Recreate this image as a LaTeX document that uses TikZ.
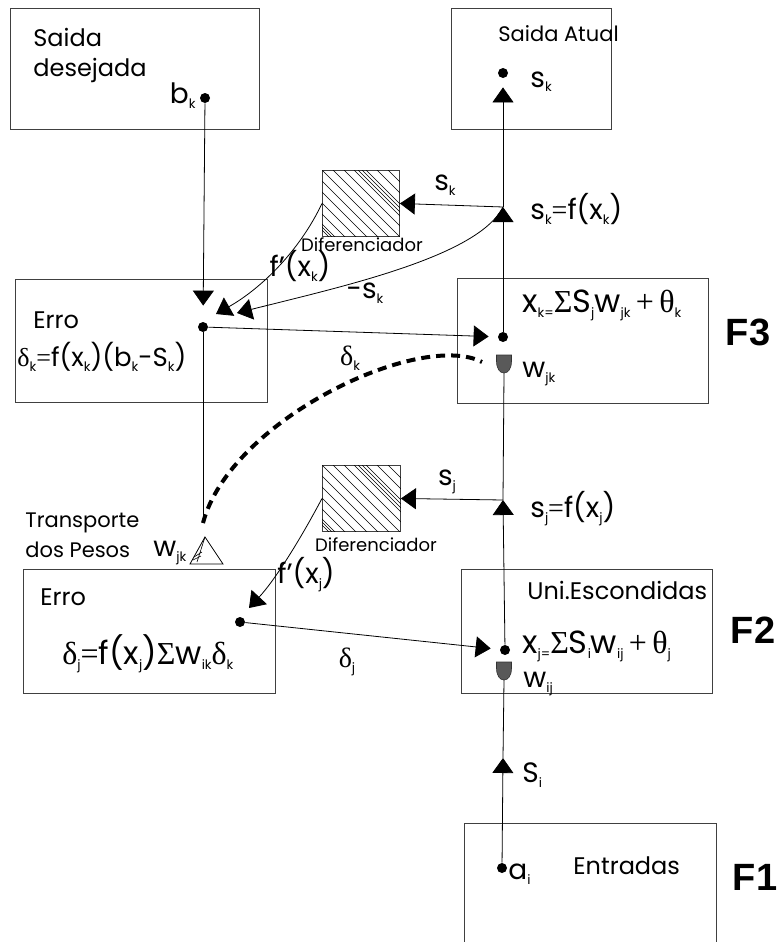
\documentclass[tikz,border=0pt]{standalone}
\usepackage{fontspec}
\setmainfont{Poppins}
\newfontfamily\grk{Liberation Serif}
\newfontfamily\boldsans{Liberation Sans}
\usetikzlibrary{arrows.meta,calc}

\newcommand\sub[1]{\raisebox{-5pt}{\fontsize{13}{13}\selectfont #1}}
\newcommand\gr[1]{{\grk #1}}
\newcommand\lin{{\char"0027}}

\tikzset{
  box/.style={draw=black!75,line width=0.9pt,inner sep=0pt,anchor=north west},
  dot/.style={circle,fill,inner sep=0pt,minimum size=10pt},
  tip/.style={-{Triangle[length=15pt,width=21pt]}},
  lbl/.style={inner sep=0pt,font=\fontsize{24}{28}\selectfont},
  eq/.style={inner sep=0pt,font=\fontsize{28}{32}\selectfont},
  bigeq/.style={inner sep=0pt,font=\fontsize{32}{36}\selectfont},
  small/.style={inner sep=0pt,font=\fontsize{18}{20}\selectfont},
  layer/.style={font=\boldsans\bfseries\fontsize{38}{40}\selectfont},
  transp/.style={line width=4pt,dash pattern=on 9pt off 6pt},
  shield/.pic={\filldraw[fill=black!65,draw=black!80,line width=0.6pt]
    (-7.5,0) -- (7.5,0) -- (7.5,6) .. controls (7.5,14) and (4,18) .. (0,18)
    .. controls (-4,18) and (-7.5,14) .. (-7.5,6) -- cycle;
    \coordinate (-bot) at (0,18);}
}

\begin{document}
\begin{tikzpicture}[x=1pt,y=-1pt,line width=0.8pt]
\useasboundingbox (0,0) rectangle (780,942);

\node[box,minimum width=249pt,minimum height=121pt] (desej) at (10,8) {};
\node[box,minimum width=160pt,minimum height=121pt] (atual) at (451,8) {};
\node[box,minimum width=252pt,minimum height=123pt] (errok) at (15,279) {};
\node[box,minimum width=251pt,minimum height=125pt] (camk) at (457,278) {};
\node[box,minimum width=252pt,minimum height=124pt] (erroj) at (23,569) {};
\node[box,minimum width=251pt,minimum height=124pt] (camj) at (461,569) {};
\draw[draw=black!75,line width=0.9pt] (464,950) -- (464,823) -- (716,823) -- (716,950);
\node[box,minimum width=77pt,minimum height=66pt] (dif1) at (322,170) {};
\node[box,minimum width=78pt,minimum height=66pt] (dif2) at (322,465) {};

\foreach \d in {dif1,dif2}{
  \begin{scope}
    \clip (\d.south west) rectangle (\d.north east);
    \foreach \o in {-60,-57,-54,-44,-33,-22,-11,0,11,22,32,36,40,44,55,66}
      \draw[line width=0.6pt] ($(\d.north west)+(\o,0)$) -- +(90,90);
  \end{scope}}

\node[lbl,anchor=base west] (t1) at (33,47) {Saida};
\node[lbl,anchor=base west] (t2) at (33,77) {desejada};
\node[eq,anchor=base east] (bklab) at (196,103) {b\sub{k}};
\node[dot] (bk) at (205,98) {};

\node[lbl,anchor=base west,font=\fontsize{21}{25}\selectfont] (t3) at (498,42) {Saida Atual};
\node[dot] (sout) at (503,73) {};
\node[eq,anchor=base west] (sklab) at (530,87) {s\sub{k}};

\node[small] (d1lab) at (362,245) {Diferenciador};
\node[small] (d2lab) at (376,545) {Diferenciador};

\node[eq] (skarr) at (445,185) {s\sub{k}};
\node[eq,anchor=base west] (skf) at (530,219) {s\sub{k}\gr{=}f(x\sub{k})};
\node[eq] (fk) at (300,266) {f\lin(x\sub{k})};
\node[eq] (msk) at (365,293) {-s\sub{k}};

\node[lbl,anchor=base west] (t4) at (33,328) {Erro};
\node[eq,anchor=base west,font=\fontsize{26}{30}\selectfont] (ekf) at (17,366) {\gr{δ}\sub{k}\gr{=}f(x\sub{k})(b\sub{k}-S\sub{k})};
\node[dot] (dk) at (203,327) {};
\node[eq] (dklab) at (350,358) {\gr{δ}\sub{k}};
\node[bigeq,anchor=base west] (xkf) at (522,312) {x\sub{k=}\gr{Σ}S\sub{j}w\sub{jk}\,\gr{+}\,\gr{θ}\sub{k}};
\node[eq,anchor=base west] (wjklab) at (522,377) {w\sub{jk}};
\node[layer] (f3) at (748,332) {F3};

\node[lbl,anchor=base west,font=\fontsize{21}{25}\selectfont] (t5) at (25,527) {Transporte};
\node[lbl,anchor=base west,font=\fontsize{21}{25}\selectfont] (t6) at (25,557) {dos Pesos};
\node[eq,anchor=base west] (wtr) at (153,556) {w\sub{jk}};

\node[eq] (sjarr) at (447,482) {s\sub{j}};
\node[eq,anchor=base west] (sjf) at (530,517) {s\sub{j}\gr{=}f(x\sub{j})};
\node[eq] (fj) at (306,575) {f\lin(x\sub{j})};

\node[lbl,anchor=base west] (t7) at (40,605) {Erro};
\node[bigeq,anchor=base west] (ejf) at (62,664) {\gr{δ}\sub{j}\gr{=}f(x\sub{j})\gr{Σ}w\sub{ik}\gr{δ}\sub{k}};
\node[dot] (dj) at (240,622) {};
\node[eq] (djlab) at (347,662) {\gr{δ}\sub{j}};
\node[lbl,anchor=base west] (t8) at (527,599) {Uni.Escondidas};
\node[bigeq,anchor=base west] (xjf) at (522,653) {x\sub{j=}\gr{Σ}S\sub{i}w\sub{ij}\,\gr{+}\,\gr{θ}\sub{j}};
\node[eq,anchor=base west] (wijlab) at (523,687) {w\sub{ij}};
\node[layer] (f2) at (753,630) {F2};

\node[eq,anchor=base west] (silab) at (522,782) {S\sub{i}};
\node[dot] (ai) at (502,868) {};
\node[eq,anchor=base west] (ailab) at (508,879) {a\sub{i}};
\node[lbl,anchor=base west] (t9) at (573,874) {Entradas};
\node[layer] (f1) at (755,877) {F1};

\coordinate (si) at (503,758);
\pic (wij) at (504,662) {shield};
\node[dot] (xj) at (505,650) {};
\coordinate (sj) at (503,500);
\pic (wjk) at (504,355) {shield};
\node[dot] (xk) at (503,337) {};
\coordinate (sk) at (503,207);
\coordinate (fkend) at (216,314);
\coordinate (mkend) at (237,313);
\coordinate (fjend) at (249,608);
\coordinate (ttop) at (203,523);
\coordinate (dend) at (482,362);
\coordinate (tw) at (205,537);

\draw[tip] (ai) -- (si);
\draw (si) -- (wij-bot);
\draw[tip] (xj) -- (sj);
\draw (sj) -- (wjk-bot);
\draw[tip] (xk) -- (sk);
\draw[tip,shorten >=9pt] (sk) -- (sout);

\draw[tip,shorten >=16pt] (bk) -- (dk);
\draw[tip] (sk) -- (dif1.east);
\draw[tip] (dif1.west) .. controls (300,250) and (262,288) .. (fkend);
\draw[tip] (sk) .. controls (478,257) and (340,287) .. (mkend);
\draw[tip,shorten >=9pt] (dk) -- (xk);
\draw (dk) -- (ttop);
\draw[transp] (ttop) .. controls (230,420) and (420,330) .. (dend);

\draw (tw) -- (223,564) -- (190,564) -- cycle;
\draw[line width=0.6pt] (tw) -- (197,562) (193,560) -- (201,556) (194,557) -- (202,552);

\draw[tip] (sj) -- (dif2.east);
\draw[tip] (dif2.west) .. controls (300,540) and (275,580) .. (fjend);
\draw[tip,shorten >=9pt] (dj) -- (xj);
\end{tikzpicture}
\end{document}
